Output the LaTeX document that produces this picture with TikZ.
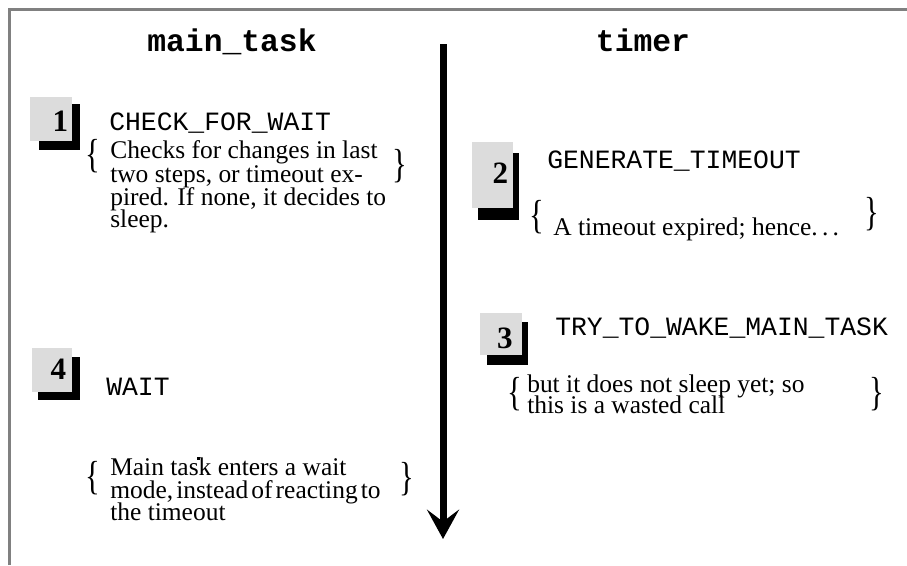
\documentclass[tikz,border=0pt]{standalone}
\usepackage{fontspec}
\setmainfont{Liberation Serif}
\setmonofont{Liberation Mono}
\usetikzlibrary{arrows.meta}
\definecolor{framegray}{RGB}{128,128,128}
\definecolor{boxgray}{RGB}{220,220,220}
\begin{document}
\begin{tikzpicture}[x=0.75pt,y=-0.75pt,
  txt/.style={anchor=base west, inner sep=0pt, font=\fontsize{19.1pt}{23pt}\selectfont},
  code/.style={anchor=base west, inner sep=0pt, font=\ttfamily\fontsize{19.8pt}{24pt}\selectfont},
  head/.style={anchor=base, inner sep=0pt, font=\ttfamily\bfseries\fontsize{23.5pt}{28pt}\selectfont},
  num/.style={anchor=base, inner sep=0pt, font=\bfseries\fontsize{23.3pt}{28pt}\selectfont},
  brace/.style={anchor=base, inner sep=0pt, yscale=1.15, font=\fontsize{23pt}{27pt}\selectfont},
  shadowfill/.style={fill=black},
  numfill/.style={fill=boxgray},
  frameline/.style={draw=framegray, line width=2.5pt},
  timeline/.style={line width=5.25pt, -{Stealth[length=22pt,width=24pt,inset=9pt]}},
]
\useasboundingbox (0,0) rectangle (907,565);
% frame
\draw[frameline] (9.7,565) -- (9.7,9.7) -- (907,9.7);
% headers
\node[head] (hmain) at (232,51) {main\_task};
\node[head] (htimer) at (643,51) {timer};
% timeline arrow
\coordinate (tltop) at (443,44);
\coordinate (tlend) at (443,539);
\draw[timeline] (tltop) -- (tlend);

% step 1
\fill[shadowfill] (39,104) rectangle (80,150);
\fill[numfill] (30,97) rectangle (72,141);
\node[num] (n1) at (60.5,131) {1};
\node[code] (t1) at (109,130) {CHECK\_FOR\_WAIT};
\node[brace] (b1l) at (92.5,167) {\scalebox{1}[1.15]{\{}};
\node[brace] (b1r) at (400,177) {\scalebox{1}[1.15]{\}}};
\node[txt] (d1a) at (110,158) {Checks for changes in last};
\node[txt] (d1b) at (110,182) {two steps, or timeout ex-};
\node[txt] (d1c) at (110,205) {pired. If none, it decides to};
\node[txt] (d1d) at (110,227) {sleep.};

% step 2
\fill[shadowfill] (478,153) rectangle (519,220);
\fill[numfill] (472,142) rectangle (513,208);
\node[num] (n2) at (500.5,183) {2};
\node[code] (t2) at (547,168) {GENERATE\_TIMEOUT};
\node[brace] (b2l) at (537,228) {\scalebox{1}[1.15]{\{}};
\node[brace] (b2r) at (872,225) {\scalebox{1}[1.15]{\}}};
\node[txt] (d2a) at (553,235) {A timeout expired; hence.\,.\,.};

% step 3
\fill[shadowfill] (487,322) rectangle (528,365);
\fill[numfill] (480,313) rectangle (522,355);
\node[num] (n3) at (505,348) {3};
\node[code] (t3) at (555,335) {TRY\_TO\_WAKE\_MAIN\_TASK};
\node[brace] (b3l) at (515,405) {\scalebox{1}[1.15]{\{}};
\node[brace] (b3r) at (877,405) {\scalebox{1}[1.15]{\}}};
\node[txt] (d3a) at (527,392) {but it does not sleep yet; so};
\node[txt] (d3b) at (527,413) {this is a wasted call};

% step 4
\fill[shadowfill] (38,357) rectangle (80,400);
\fill[numfill] (32,348) rectangle (72,392);
\node[num] (n4) at (58.5,379) {4};
\node[code] (t4) at (106,395) {WAIT};
\node[brace] (b4l) at (92.5,489) {\scalebox{1}[1.15]{\{}};
\node[brace] (b4r) at (407,490) {\scalebox{1}[1.15]{\}}};
\node[txt] (d4a) at (110,475) {Main task enters a wait};
\node[txt] (d4b) at (110,498) {mode,\hspace{0.12em}instead\hspace{0.12em}of\hspace{0.12em}reacting\hspace{0.12em}to};
\node[txt] (d4c) at (110,520) {the timeout};
\fill (197,457) rectangle (199.5,459.5);
\end{tikzpicture}
\end{document}
